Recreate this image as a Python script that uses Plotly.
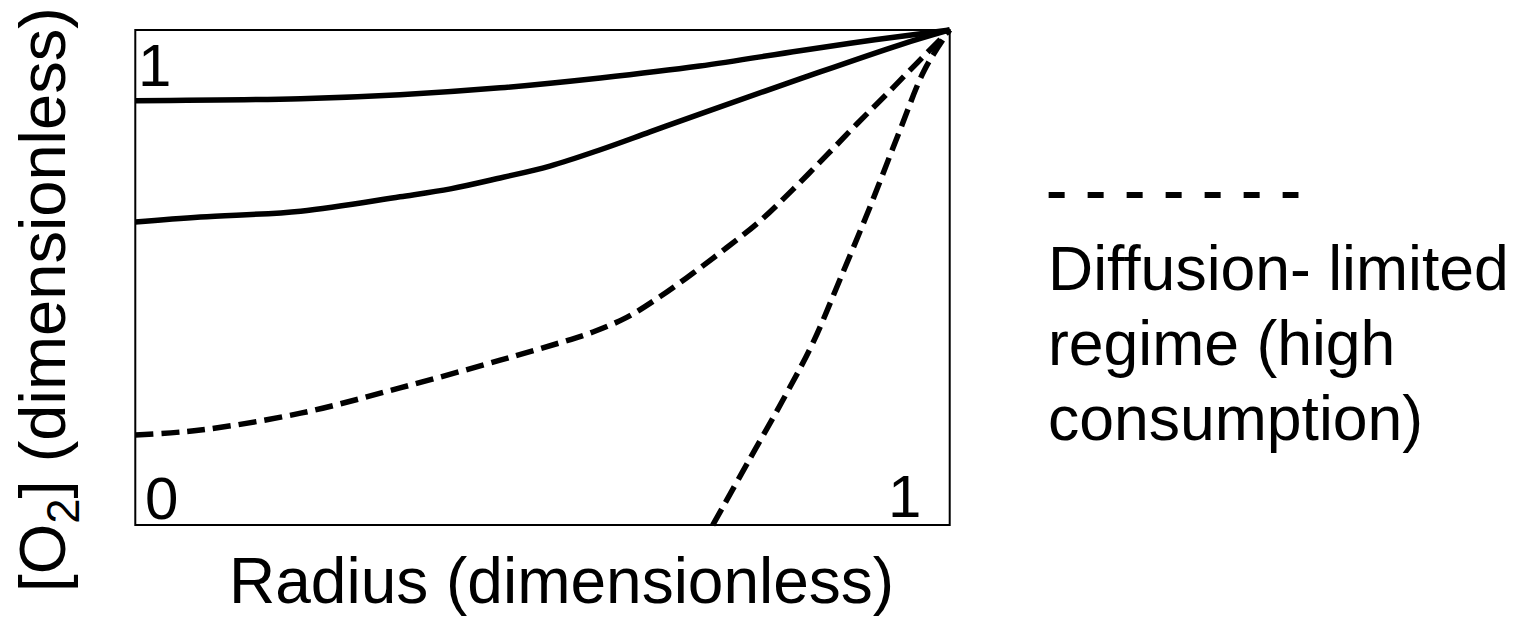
import plotly.graph_objects as go

# ---- data (dimensionless radius vs dimensionless O2) ----
radius_a = [0.0, 0.203, 0.325, 0.448, 0.571, 0.693, 0.816, 0.908, 1.0]
o2_a     = [0.857, 0.861, 0.869, 0.883, 0.903, 0.927, 0.958, 0.980, 1.0]

radius_b = [0.0, 0.080, 0.203, 0.325, 0.387, 0.448, 0.509, 0.571, 0.632, 0.693, 0.816, 0.939, 1.0]
o2_b     = [0.612, 0.622, 0.634, 0.663, 0.679, 0.701, 0.725, 0.758, 0.794, 0.830, 0.901, 0.970, 1.0]

radius_c = [0.0, 0.080, 0.203, 0.325, 0.448, 0.521, 0.562, 0.604, 0.644, 0.685, 0.726,
            0.767, 0.807, 0.849, 0.886, 0.923, 0.961, 1.0]
o2_c     = [0.182, 0.192, 0.226, 0.277, 0.333, 0.368, 0.390, 0.420, 0.461, 0.509, 0.560,
            0.614, 0.677, 0.747, 0.810, 0.871, 0.935, 1.0]

radius_d = [0.709, 0.755, 0.798, 0.832, 0.865, 0.902, 0.939, 0.969, 1.0]
o2_d     = [0.0, 0.135, 0.261, 0.368, 0.495, 0.642, 0.798, 0.919, 1.0]

corner_labels = ["1", "0", "1"]
x_title = "Radius (dimensionless)"
y_title = "[O<sub>2</sub>] (dimensionless)"
legend_lines = ["Diffusion- limited", "regime (high", "consumption)"]

# ---- layout geometry ----
W, H = 1522, 626
pad = 0.02
px_per_x, px_per_y = 815, 495
frame_l, frame_t, frame_b = 135, 30, 525
ml = frame_l - pad * px_per_x
mt = frame_t - pad * px_per_y
pw = (1 + 2 * pad) * px_per_x
ph = (1 + 2 * pad) * px_per_y
mr = W - ml - pw
mb = H - mt - ph

def px2paper(px, py):
    return (px - ml) / pw, 1 - (py - mt) / ph

FONT = "Liberation Sans, Arial, Helvetica, sans-serif"
dash = "18px,8px"

fig = go.Figure()
for xs, ys, d in [(radius_a, o2_a, "solid"), (radius_b, o2_b, "solid"),
                  (radius_c, o2_c, dash), (radius_d, o2_d, dash)]:
    fig.add_trace(go.Scatter(x=xs, y=ys, mode="lines",
                             line=dict(color="black", width=5.5, dash=d, shape="spline", smoothing=1.0),
                             showlegend=False, hoverinfo="skip"))

shapes = [dict(type="rect", xref="x", yref="y", x0=0, y0=0, x1=1, y1=1,
               line=dict(color="black", width=2), layer="above")]
lx0, ly = px2paper(1049, 195)
lx1, _ = px2paper(1299, 195)
shapes.append(dict(type="line", xref="paper", yref="paper", x0=lx0, x1=lx1, y0=ly, y1=ly,
                   line=dict(color="black", width=6, dash="16px,23px")))

ann = []
def add_text(text, px, py, size, xanchor="center", angle=0):
    x, y = px2paper(px, py)
    ann.append(dict(text=text, x=x, y=y, xref="paper", yref="paper", showarrow=False,
                    xanchor=xanchor, yanchor="middle", textangle=angle,
                    font=dict(family=FONT, size=size, color="black")))

add_text(corner_labels[0], 154, 66, 60)
add_text(corner_labels[1], 161, 498, 60)
add_text(corner_labels[2], 905, 496, 60)
add_text(x_title, 562, 581, 64)
add_text(y_title, 47, 300, 65, angle=-90)
for i, t in enumerate(legend_lines):
    add_text(t, 1046, 268 + 75 * i, 62.5, xanchor="left")

fig.update_layout(width=W, height=H, margin=dict(l=ml, r=mr, t=mt, b=mb, pad=0),
                  paper_bgcolor="white", plot_bgcolor="white", shapes=shapes, annotations=ann,
                  showlegend=False)
fig.update_xaxes(range=[-pad, 1 + pad], visible=False)
fig.update_yaxes(range=[-pad, 1 + pad], visible=False)
fig.write_html("out.html", config={"displayModeBar": False},
               post_script="document.body.style.margin='0';")
